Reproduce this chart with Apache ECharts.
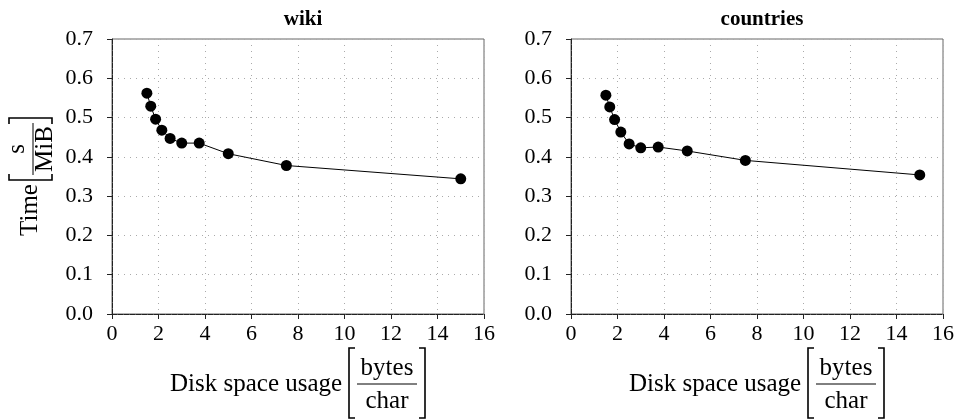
<!DOCTYPE html>
<html><head><meta charset="utf-8">
<script src="https://cdn.jsdelivr.net/npm/echarts@6/dist/echarts.min.js"></script>
<style>html,body{margin:0;padding:0;background:#fff}#c{width:960px;height:419px}</style>
</head><body><div id="c"></div>
<script>
var panelTitles = ['wiki', 'countries'];
var xValues = [1.5, 1.667, 1.875, 2.143, 2.5, 3, 3.75, 5, 7.5, 15];
var wikiTimes = [0.562, 0.529, 0.496, 0.468, 0.447, 0.435, 0.435, 0.408, 0.378, 0.344];
var countriesTimes = [0.557, 0.527, 0.495, 0.463, 0.433, 0.423, 0.425, 0.415, 0.391, 0.354];
var xTicks = [0, 2, 4, 6, 8, 10, 12, 14, 16];
var yTicks = [0.0, 0.1, 0.2, 0.3, 0.4, 0.5, 0.6, 0.7];

var FONT = '"Liberation Serif", "DejaVu Serif", serif';
var chart = echarts.init(document.getElementById('c'), null, {renderer: 'canvas'});

var grids = [
  {left: 112, top: 39, width: 372, height: 275},
  {left: 571, top: 39, width: 372, height: 275}
];
var seriesVals = [wikiTimes, countriesTimes];

function xAxisCfg(i) {
  return {
    type: 'value', gridIndex: i, min: xTicks[0], max: xTicks[xTicks.length - 1], interval: 2,
    axisLine: {show: true, onZero: false, lineStyle: {color: '#222', width: 1, type: [5, 1]}},
    axisTick: {show: true, inside: false, length: 5, lineStyle: {color: '#222'}},
    axisLabel: {color: '#000', fontFamily: FONT, fontSize: 22, margin: 9},
    splitLine: {show: true, lineStyle: {color: '#aaa', type: [1, 5], width: 1}}
  };
}
function yAxisCfg(i) {
  return {
    type: 'value', gridIndex: i, min: 0, max: 0.7, interval: 0.1,
    axisLine: {show: true, lineStyle: {color: '#222', width: 1, type: [5, 1]}},
    axisTick: {show: true, inside: false, length: 5, lineStyle: {color: '#222'}},
    axisLabel: {color: '#000', fontFamily: FONT, fontSize: 22, margin: 19,
      formatter: function (v) { return v.toFixed(1); }},
    splitLine: {show: true, lineStyle: {color: '#aaa', type: [1, 5], width: 1}}
  };
}

function xTitle(offsetX) {
  var y0 = 348, y1 = 418;
  var bl = 349 + offsetX, br = 425 + offsetX;
  return [
    {type: 'text', x: 170 + offsetX, y: 384, style: {text: 'Disk space usage', fontFamily: FONT, fontSize: 25, fill: '#000', verticalAlign: 'middle', align: 'left'}},
    {type: 'polyline', shape: {points: [[bl + 6, y0], [bl, y0], [bl, y1], [bl + 6, y1]]}, style: {stroke: '#000', lineWidth: 1.6, fill: null}},
    {type: 'text', x: (bl + br) / 2, y: 368, style: {text: 'bytes', fontFamily: FONT, fontSize: 25, fill: '#000', verticalAlign: 'middle', align: 'center'}},
    {type: 'line', shape: {x1: bl + 8, y1: 384, x2: br - 8, y2: 384}, style: {stroke: '#000', lineWidth: 1}},
    {type: 'text', x: (bl + br) / 2, y: 401, style: {text: 'char', fontFamily: FONT, fontSize: 25, fill: '#000', verticalAlign: 'middle', align: 'center'}},
    {type: 'polyline', shape: {points: [[br - 6, y0], [br, y0], [br, y1], [br - 6, y1]]}, style: {stroke: '#000', lineWidth: 1.6, fill: null}}
  ];
}

var graphics = [].concat(xTitle(0), xTitle(459), [
  {type: 'text', x: 30, y: 210, rotation: Math.PI / 2, style: {text: 'Time', fontFamily: FONT, fontSize: 25, fill: '#000', verticalAlign: 'middle', align: 'center'}},
  {type: 'polyline', shape: {points: [[9, 174], [9, 180], [52, 180], [52, 174]]}, style: {stroke: '#000', lineWidth: 1.6, fill: null}},
  {type: 'text', x: 17, y: 149, rotation: Math.PI / 2, style: {text: 's', fontFamily: FONT, fontSize: 25, fill: '#000', verticalAlign: 'middle', align: 'center'}},
  {type: 'line', shape: {x1: 33, y1: 123, x2: 33, y2: 175}, style: {stroke: '#000', lineWidth: 1}},
  {type: 'text', x: 45, y: 149, rotation: Math.PI / 2, style: {text: 'MiB', fontFamily: FONT, fontSize: 25, fill: '#000', verticalAlign: 'middle', align: 'center'}},
  {type: 'polyline', shape: {points: [[9, 124], [9, 118], [52, 118], [52, 124]]}, style: {stroke: '#000', lineWidth: 1.6, fill: null}}
]);

var option = {
  animation: false,
  backgroundColor: '#fff',
  title: panelTitles.map(function (t, i) {
    return {text: t, left: grids[i].left + grids[i].width / 2, top: 4, textAlign: 'center',
      textStyle: {fontFamily: FONT, fontSize: 21, fontWeight: 'bold', color: '#000'}};
  }),
  grid: grids.map(function (g) {
    return Object.assign({show: true, borderColor: '#666', borderWidth: 1, backgroundColor: 'transparent'}, g);
  }),
  xAxis: [xAxisCfg(0), xAxisCfg(1)],
  yAxis: [yAxisCfg(0), yAxisCfg(1)],
  series: seriesVals.map(function (vals, i) {
    return {
      type: 'line', xAxisIndex: i, yAxisIndex: i,
      data: xValues.map(function (x, k) { return [x, vals[k]]; }),
      symbol: 'circle', symbolSize: 11,
      lineStyle: {color: '#000', width: 1},
      itemStyle: {color: '#000'}
    };
  }),
  graphic: graphics
};
chart.setOption(option);
</script>
</body></html>
